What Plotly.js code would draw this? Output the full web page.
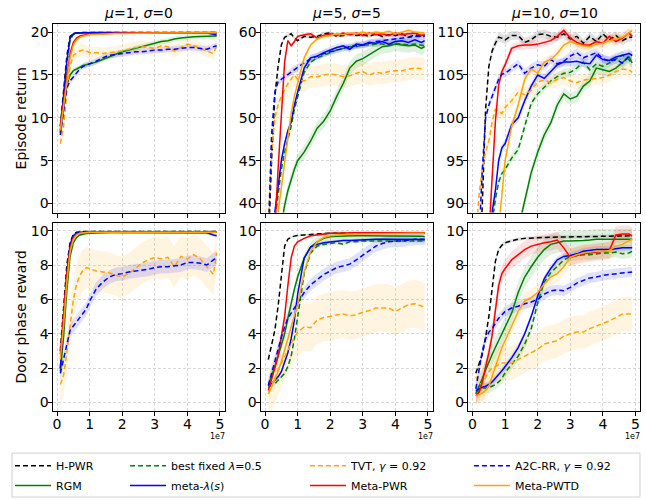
<!DOCTYPE html>
<html>
<head>
<meta charset="utf-8">
<script src="https://cdn.plot.ly/plotly-3.0.1.min.js"></script>
<style>html,body{margin:0;padding:0;background:#fff;}#chart{width:646px;height:500px;}</style>
</head>
<body>
<div id="chart"></div>
<script>
// ---- x grid (environment steps, in units of 1e7) ----
const XS = [0.1,0.2,0.3,0.4,0.5,0.6,0.7,0.8,0.9,1.0,1.2,1.4,1.6,1.8,2.0,2.2,2.4,2.6,2.8,3.0,3.2,3.4,3.6,3.8,4.0,4.2,4.4,4.6,4.8,4.9];

const PANEL_TITLES = ['<i>μ</i>=1, <i>σ</i>=0', '<i>μ</i>=5, <i>σ</i>=5', '<i>μ</i>=10, <i>σ</i>=10'];
const ROW_LABELS = ['Episode return', 'Door phase reward'];
const SERIES_NAMES = ['H-PWR', 'RGM', 'best fixed <i>λ</i>=0.5', 'meta-<i>λ</i>(<i>s</i>)', 'TVT, <i>γ</i> = 0.92', 'Meta-PWR', 'A2C-RR, <i>γ</i> = 0.92', 'Meta-PWTD'];

// ---- Panel A: episode return, mu=1 sigma=0 ----
const A_hpwr = [9.0,13.2,17.2,19.5,19.85,19.9,19.95,19.95,19.95,19.95,19.95,19.95,19.95,19.95,19.95,19.95,19.95,19.95,19.95,19.95,19.95,19.95,19.95,19.95,19.95,19.95,19.95,19.95,19.95,19.95];
const A_rgm = [8.2,11.0,13.8,15.0,15.5,15.7,15.9,16.1,16.2,16.3,16.5,16.8,17.1,17.4,17.7,17.9,18.1,18.3,18.5,18.7,18.9,19.0,19.2,19.3,19.4,19.45,19.5,19.5,19.5,19.55];
const A_fixed = [8.3,12.3,16.3,19.1,19.7,19.85,19.9,19.9,19.9,19.9,19.9,19.9,19.9,19.92,19.92,19.92,19.92,19.92,19.92,19.92,19.92,19.92,19.92,19.92,19.92,19.92,19.92,19.9,19.85,19.8];
const A_metaLam = [8.5,12.6,16.6,19.3,19.8,19.9,19.92,19.95,19.95,19.95,19.95,19.95,19.95,19.95,19.95,19.95,19.95,19.95,19.95,19.95,19.95,19.95,19.95,19.95,19.95,19.95,19.95,19.9,19.75,19.65];
const A_tvt = [7.0,9.0,13.0,16.0,17.3,17.6,17.8,17.9,17.8,17.6,17.6,17.5,17.6,17.7,17.8,18.0,18.2,18.3,18.2,18.1,18.4,18.3,17.8,18.2,18.6,18.4,18.1,17.8,17.5,18.4];
const A_metaPwr = [9.0,12.0,15.0,17.5,18.8,19.3,19.55,19.65,19.72,19.78,19.82,19.85,19.88,19.9,19.9,19.92,19.92,19.93,19.93,19.94,19.94,19.95,19.95,19.95,19.95,19.95,19.95,19.95,19.95,19.95];
const A_a2c = [8.0,10.5,13.5,14.3,14.8,15.3,15.7,16.0,16.15,16.3,16.6,17.0,17.3,17.4,17.5,17.6,17.7,17.7,17.8,17.9,17.9,18.0,18.0,18.1,18.2,18.2,18.1,18.0,18.3,18.4];
const A_pwtd = [8.5,11.5,14.5,17.0,18.5,19.1,19.4,19.55,19.62,19.7,19.75,19.8,19.82,19.85,19.85,19.87,19.88,19.88,19.9,19.9,19.9,19.9,19.9,19.9,19.9,19.92,19.92,19.92,19.92,19.92];

// ---- Panel B: episode return, mu=5 sigma=5 ----
const B_hpwr = [35,45,52.5,56,58.5,59.4,59.6,59.8,59.3,59.0,59.5,59.4,59.5,59.8,59.9,59.5,59.6,59.8,59.6,59.7,59.5,59.8,59.5,59.7,59.6,59.8,59.4,59.7,59.5,59.6];
const B_rgm = [28,30,32,34.5,37.5,39.8,41.5,42.8,44,45,46,47.3,48.8,49.6,50.8,52.5,54,55.8,56.6,56.9,57.4,57.9,58.3,58.4,58.6,58.5,58.4,58.5,58.1,58.3];
const B_fixed = [32,35,38.5,41.5,44,46,47.5,49,51,52.5,55.3,56.5,57.0,57.3,57.6,57.9,58.1,58.3,58.3,58.5,58.5,58.6,58.6,58.5,58.7,58.6,58.5,58.6,58.5,58.4];
const B_metaLam = [33,36,39.5,42.5,45,47,48.5,49.5,51.5,53,55.8,57.0,57.2,57.6,57.9,58.2,58.4,58.0,58.6,58.5,58.8,58.7,58.9,58.6,58.9,59.0,58.8,59.1,58.8,59.0];
const B_tvt = [38,46,50,51.5,52.5,53.3,54,54.5,55,54.5,54.3,54.8,54.8,55.0,55.1,55.0,54.8,54.9,55.2,55.4,55.0,55.3,55.2,55.4,55.5,55.5,55.7,55.8,55.7,55.7];
const B_metaPwr = [25,30,37,44,51,56.5,59.0,58.4,58.9,59.5,59.7,59.8,59.3,59.6,59.8,59.6,59.9,59.7,59.9,59.6,59.9,59.7,59.8,59.6,59.9,59.7,59.8,59.9,59.6,59.7];
const B_a2c = [36,48,53,54.2,54.5,54.8,55.1,55.4,55.6,55.9,56.4,56.9,57.2,57.5,57.7,57.9,58.1,58.3,58.4,58.5,58.7,58.9,59.0,59.1,59.2,59.3,59.4,59.5,59.5,59.5];
const B_pwtd = [28,31,35,39,42,45,48,50.5,52.5,54,57,58.5,59.2,59.5,59.6,59.8,59.7,59.9,59.8,60.0,59.8,60.0,59.9,60.1,59.8,60.0,60.2,60.0,59.9,59.9];

// ---- Panel C: episode return, mu=10 sigma=10 ----
const C_hpwr = [75,80,90,101,106,107.8,108.7,109.4,109.3,109.1,109.6,109.6,108.8,109.1,109.7,109.8,109.5,109.4,109.8,109.2,109.5,108.7,109.5,108.9,109.8,109.1,109.6,109.0,109.4,109.4];
const C_rgm = [70,72,74,76,77,78,79,80,81,82,84,87,90.2,93.6,96,98,99.4,101.5,102.8,102.2,102.5,103.7,104.3,105.8,105.6,105.4,105.8,106.4,107.1,106.4];
const C_fixed = [75,78,80,82.5,85,88,90.5,92.5,93.5,94,95.3,96.3,99,101.7,102.8,103.6,104.3,104.8,105.2,105.3,105.8,106.5,105.6,106.3,106.0,106.4,106.9,107.3,106.8,106.3];
const C_metaLam = [78,80,82,84,86.5,89,91.5,95,96.5,97,99.2,100,102,103.7,105,104.6,105.4,106.2,106.5,106.5,106.6,106.4,106.3,107.3,106.8,106.7,107.1,107.3,107.5,107.3];
const C_tvt = [86,91,94,96,97.3,99.5,101,100.8,100.5,101.2,102,103,102.7,103.2,104.2,104.4,104.1,104.5,104.7,104.3,104.1,104.4,104.5,104.6,104.7,105.0,105.4,105.7,105.6,105.3];
const C_metaPwr = [70,74,78,82,86,93,99.5,103.8,105.4,106.2,108.1,108.4,108.5,108.5,108.6,108.8,109.0,109.5,110.2,109.3,108.8,108.5,108.5,108.9,108.7,109.5,108.9,109.3,109.9,109.5];
const C_a2c = [80,86,94,100,101.5,102.6,103.5,104.5,105.1,105.2,105.8,106.3,105.2,105.8,106.2,106.0,106.8,106.3,106.6,107.2,107.6,107.0,107.3,107.6,106.9,106.6,106.8,106.4,107.2,107.3];
const C_pwtd = [70,72,74,76,78,80.5,83.5,87,91,95,99,101.5,104.5,105.7,105.2,106.5,106.8,107.5,108.5,108.9,108.6,108.4,108.3,108.6,108.7,109.0,109.2,109.4,109.9,110.2];

// ---- Panel D: door phase reward, mu=1 sigma=0 ----
const D_hpwr = [3.0,5.6,8.0,9.3,9.8,9.9,9.93,9.95,9.95,9.95,9.95,9.95,9.95,9.95,9.95,9.95,9.95,9.95,9.95,9.95,9.95,9.95,9.95,9.95,9.95,9.95,9.95,9.95,9.95,9.95];
const D_rgm = [1.8,3.8,6.5,8.5,9.3,9.6,9.75,9.8,9.83,9.85,9.88,9.9,9.9,9.9,9.9,9.9,9.9,9.9,9.9,9.9,9.9,9.9,9.9,9.9,9.9,9.9,9.9,9.9,9.9,9.9];
const D_fixed = [2.0,4.4,7.3,9.1,9.65,9.82,9.88,9.9,9.9,9.9,9.9,9.9,9.9,9.9,9.9,9.9,9.9,9.9,9.9,9.9,9.9,9.9,9.9,9.9,9.9,9.9,9.9,9.9,9.9,9.9];
const D_metaLam = [2.0,4.5,7.5,9.2,9.7,9.85,9.9,9.9,9.9,9.9,9.9,9.9,9.9,9.9,9.9,9.9,9.9,9.9,9.9,9.9,9.9,9.9,9.9,9.9,9.9,9.9,9.9,9.88,9.75,9.7];
const D_tvt = [1.05,1.6,2.9,4.6,6.0,6.9,7.4,7.7,7.85,7.8,7.65,7.6,7.55,7.4,7.3,7.5,7.8,8.1,8.3,8.45,8.35,8.45,7.9,8.5,8.35,8.6,8.35,7.9,7.45,8.7];
const D_metaPwr = [2.8,5.0,7.5,9.0,9.6,9.8,9.85,9.88,9.9,9.9,9.9,9.9,9.9,9.9,9.9,9.9,9.9,9.9,9.9,9.9,9.9,9.9,9.9,9.9,9.9,9.9,9.9,9.9,9.9,9.9];
const D_a2c = [1.7,2.6,3.5,4.2,4.45,4.7,4.95,5.2,5.45,5.9,6.6,7.0,7.3,7.45,7.5,7.6,7.65,7.7,7.75,7.85,7.9,7.9,7.95,8.0,8.15,8.15,8.1,8.0,8.3,8.45];
const D_pwtd = [2.5,4.5,7.0,8.8,9.5,9.75,9.85,9.88,9.9,9.9,9.9,9.9,9.9,9.9,9.9,9.9,9.9,9.9,9.9,9.9,9.9,9.9,9.9,9.9,9.9,9.9,9.9,9.9,9.9,9.9];

// ---- Panel E: door phase reward, mu=5 sigma=5 ----
const E_hpwr = [2.5,3.3,4.2,5.6,7.5,9.1,9.5,9.62,9.68,9.72,9.75,9.78,9.82,9.85,9.85,9.85,9.85,9.85,9.85,9.85,9.85,9.85,9.85,9.85,9.85,9.85,9.85,9.85,9.85,9.85];
const E_rgm = [1.0,1.5,2.1,2.7,3.3,4.0,4.9,5.8,6.6,7.3,8.4,9.05,9.35,9.55,9.65,9.68,9.7,9.7,9.7,9.7,9.7,9.7,9.7,9.7,9.7,9.7,9.7,9.7,9.68,9.65];
const E_fixed = [0.9,1.0,1.1,1.3,1.5,1.7,2.1,2.7,3.7,5.0,7.5,8.7,9.1,9.2,9.25,9.3,9.2,9.35,9.35,9.4,9.4,9.4,9.42,9.4,9.42,9.4,9.4,9.42,9.4,9.4];
const E_metaLam = [1.0,1.1,1.3,1.5,1.8,2.3,2.9,3.7,4.8,6.3,8.4,9.05,9.2,9.3,9.35,9.4,9.42,9.42,9.45,9.45,9.48,9.5,9.5,9.5,9.52,9.5,9.5,9.5,9.48,9.45];
const E_tvt = [0.5,0.9,1.4,1.9,2.3,2.7,3.1,3.5,3.8,4.1,4.4,4.35,4.8,4.95,5.0,5.1,5.15,5.05,5.1,5.25,5.35,5.5,5.5,5.5,5.3,5.5,5.7,5.75,5.6,5.55];
const E_metaPwr = [0.7,1.3,2.0,2.7,3.8,5.0,6.8,8.4,9.1,9.35,9.55,9.7,9.75,9.8,9.85,9.85,9.87,9.87,9.88,9.88,9.88,9.88,9.88,9.88,9.88,9.88,9.88,9.88,9.88,9.88];
const E_a2c = [1.0,1.7,2.5,3.2,3.8,4.4,4.9,5.2,5.5,5.75,6.4,6.85,7.15,7.45,7.65,7.85,7.95,8.05,8.3,8.55,8.85,9.1,9.25,9.35,9.4,9.4,9.45,9.5,9.5,9.5];
const E_pwtd = [0.5,0.9,1.4,1.8,2.4,3.0,3.7,4.4,5.0,5.7,7.6,8.8,9.35,9.6,9.7,9.75,9.78,9.8,9.8,9.8,9.82,9.82,9.83,9.83,9.84,9.84,9.85,9.85,9.85,9.85];

// ---- Panel F: door phase reward, mu=10 sigma=10 ----
const F_hpwr = [1.7,2.2,2.8,3.8,5.0,6.6,8.2,8.9,9.15,9.3,9.42,9.5,9.55,9.58,9.6,9.6,9.62,9.62,9.63,9.63,9.64,9.65,9.65,9.66,9.67,9.68,9.68,9.69,9.7,9.7];
const F_rgm = [0.5,0.9,1.4,1.9,2.4,2.8,3.2,3.6,4.0,4.35,5.2,6.4,7.3,7.9,8.45,8.9,9.2,9.3,9.4,9.4,9.4,9.42,9.45,9.5,9.5,9.5,9.5,9.52,9.5,9.5];
const F_fixed = [0.6,0.75,0.85,0.85,0.85,0.95,1.05,1.2,1.4,1.75,2.2,2.7,3.4,4.3,5.8,7.0,7.55,7.95,8.3,8.5,8.55,8.6,8.6,8.65,8.7,8.7,8.75,8.65,8.7,8.8];
const F_metaLam = [0.7,0.8,0.9,0.95,1.05,1.2,1.4,1.6,1.85,2.1,2.6,3.2,4.0,5.0,6.2,7.2,7.8,8.3,8.5,8.55,8.65,8.8,8.85,8.9,8.9,8.9,8.95,9.0,9.0,9.0];
const F_tvt = [1.5,1.1,1.1,1.5,1.8,2.0,2.1,2.2,2.3,2.3,2.3,2.5,2.7,2.9,3.1,3.4,3.5,3.6,3.85,4.0,4.1,4.1,4.3,4.45,4.6,4.75,4.95,5.15,5.15,5.15];
const F_metaPwr = [0.4,0.6,1.2,2.0,2.9,3.9,5.2,6.8,7.5,7.8,8.3,8.6,8.9,9.1,9.2,9.3,9.35,9.45,9.0,8.45,8.55,8.65,8.7,8.75,8.8,8.85,9.75,9.8,9.8,9.7];
const F_a2c = [0.8,1.8,3.0,3.7,4.1,4.3,4.6,4.9,5.1,5.3,5.5,5.6,5.75,5.85,6.0,6.3,6.5,6.55,6.5,6.7,6.95,7.1,7.25,7.3,7.4,7.45,7.5,7.55,7.6,7.6];
const F_pwtd = [0.4,0.45,0.55,0.7,0.95,1.5,2.1,2.7,3.2,3.6,4.5,5.3,5.9,6.1,6.4,6.9,7.3,7.5,7.9,8.45,8.6,8.7,8.75,8.8,8.8,8.85,9.1,9.2,9.4,9.5];

// ---- spread (half-width of shaded band) per series, per panel ----
// order: H-PWR, RGM, best fixed, meta-lambda, TVT, Meta-PWR, A2C-RR, Meta-PWTD
const BAND_A = [0.1,0.3,0.1,0.1,0.7,0.1,0.35,0.1];
const BAND_B = [0.2,0.8,0.3,0.4,1.3,0.2,0.4,0.2];
const BAND_C = [0.5,0.7,0.5,0.5,0.8,0.5,0.5,0.6];
const BAND_D = [0.05,0.05,0.05,0.1,1.2,0.05,0.4,0.05];
const BAND_E = [0.05,0.3,0.1,0.1,1.4,0.05,0.35,0.1];
const BAND_F = [0.1,0.6,0.3,0.2,1.0,0.5,0.3,0.5];

const PANELS = [
  [A_hpwr,A_rgm,A_fixed,A_metaLam,A_tvt,A_metaPwr,A_a2c,A_pwtd],
  [B_hpwr,B_rgm,B_fixed,B_metaLam,B_tvt,B_metaPwr,B_a2c,B_pwtd],
  [C_hpwr,C_rgm,C_fixed,C_metaLam,C_tvt,C_metaPwr,C_a2c,C_pwtd],
  [D_hpwr,D_rgm,D_fixed,D_metaLam,D_tvt,D_metaPwr,D_a2c,D_pwtd],
  [E_hpwr,E_rgm,E_fixed,E_metaLam,E_tvt,E_metaPwr,E_a2c,E_pwtd],
  [F_hpwr,F_rgm,F_fixed,F_metaLam,F_tvt,F_metaPwr,F_a2c,F_pwtd]
];
const BANDS = [BAND_A,BAND_B,BAND_C,BAND_D,BAND_E,BAND_F];

// ---- styles ----
const COLORS = ['#000000','#008000','#008000','#0000ff','#ffa500','#ff0000','#0000ff','#ffa500'];
const RGB = ['0,0,0','0,128,0','0,128,0','0,0,255','255,165,0','255,0,0','0,0,255','255,165,0'];
const DASHED = [true,false,true,false,true,false,true,false];
const FONT = 'DejaVu Sans, Liberation Sans, sans-serif';

const W = 646, H = 500;
const COLS_PX = [[52.5,224.5],[260.5,432.5],[468,640]];
const ROWS_PX = [[24,213],[223,412]];
const YRANGES = [[-1.05,20.95],[38.95,60.95],[88.95,110.95],[-0.5,10.47],[-0.5,10.47],[-0.5,10.47]];
const YDTICK = [5,5,5,2,2,2];

const traces = [];
PANELS.forEach((series, p) => {
  const ax = p === 0 ? '' : String(p + 1);
  const xref = 'x' + ax, yref = 'y' + ax;
  // shaded bands first
  series.forEach((ys, i) => {
    const w = BANDS[p][i];
    const up = ys.map(v => v + w);
    const lo = ys.map(v => v - w);
    traces.push({
      type: 'scatter', mode: 'lines', xaxis: xref, yaxis: yref,
      x: XS.concat(XS.slice().reverse()),
      y: up.concat(lo.slice().reverse()),
      fill: 'toself', fillcolor: 'rgba(' + RGB[i] + ',0.12)',
      line: {width: 0, color: 'rgba(0,0,0,0)'},
      hoverinfo: 'skip', showlegend: false
    });
  });
  series.forEach((ys, i) => {
    const n = Math.floor(i / 2) * 2 + (i % 2) + 1;
    traces.push({
      type: 'scatter', mode: 'lines', xaxis: xref, yaxis: yref,
      x: XS, y: ys, name: SERIES_NAMES[i],
      line: {color: COLORS[i], width: 1.5, dash: DASHED[i] ? '5px,3px' : 'solid'},
      showlegend: p === 0, legend: n === 1 ? 'legend' : 'legend' + n
    });
  });
});

const layout = {
  width: W, height: H,
  margin: {l: 0, r: 0, t: 0, b: 0},
  paper_bgcolor: '#fff', plot_bgcolor: '#fff',
  font: {family: FONT, size: 14, color: '#000'},
  annotations: [], shapes: []
};

for (let p = 0; p < 6; p++) {
  const ax = p === 0 ? '' : String(p + 1);
  const col = p % 3, row = Math.floor(p / 3);
  const cx = COLS_PX[col], ry = ROWS_PX[row];
  const common = {
    showline: true, mirror: true, linecolor: '#000', linewidth: 1,
    ticks: 'outside', ticklen: 4, tickwidth: 1, tickcolor: '#000',
    ticklabelstandoff: -4,
    showgrid: true, gridcolor: '#d0d0d0', gridwidth: 0.8, griddash: '3px,2px',
    zeroline: false, tickfont: {family: FONT, size: 14, color: '#000'}
  };
  layout['xaxis' + ax] = Object.assign({}, common, {
    domain: [cx[0] / W, cx[1] / W], anchor: 'y' + ax,
    range: [-0.14, 5.14], tick0: 0, dtick: 1,
    showticklabels: row === 1
  });
  layout['yaxis' + ax] = Object.assign({}, common, {
    domain: [1 - ry[1] / H, 1 - ry[0] / H], anchor: 'x' + ax,
    range: YRANGES[p], tick0: 0, dtick: YDTICK[p]
  });
  if (col === 0) {
    layout['yaxis' + ax].title = {text: ROW_LABELS[row], font: {family: FONT, size: 14, color: '#000'}, standoff: 0};
  }
  if (row === 0) {
    layout.annotations.push({
      xref: 'paper', yref: 'paper', x: (cx[0] + cx[1]) / 2 / W, y: 1 - 13 / H,
      xanchor: 'center', yanchor: 'middle', showarrow: false,
      text: PANEL_TITLES[col], font: {family: FONT, size: 14, color: '#000'}
    });
  } else {
    layout.annotations.push({
      xref: 'paper', yref: 'paper', x: (cx[1] + 2) / W, y: 1 - 437 / H,
      xanchor: 'right', yanchor: 'middle', showarrow: false,
      text: '1e7', font: {family: FONT, size: 8, color: '#000'}
    });
  }
}

// legend: 4 columns x 2 rows, one legend per entry
const LEG_TEXT_X = [57, 172, 352, 516];
const LEG_ROW_Y = [465.7, 486.7];
for (let n = 1; n <= 8; n++) {
  const col = Math.floor((n - 1) / 2), row = (n - 1) % 2;
  layout[n === 1 ? 'legend' : 'legend' + n] = {
    x: (LEG_TEXT_X[col] - 47) / W, y: 1 - LEG_ROW_Y[row] / H,
    xanchor: 'left', yanchor: 'middle', itemwidth: 36,
    bgcolor: 'rgba(0,0,0,0)', borderwidth: 0,
    font: {family: FONT, size: 11, color: '#000'}
  };
}
layout.shapes.push({
  type: 'rect', xref: 'paper', yref: 'paper',
  x0: 12 / W, x1: 640 / W, y0: 1 - 498 / H, y1: 1 - 454 / H,
  line: {color: '#d0d0d0', width: 1}, fillcolor: 'rgba(255,255,255,0.8)', layer: 'below'
});

Plotly.newPlot('chart', traces, layout, {displayModeBar: false, staticPlot: true});
</script>
</body>
</html>
